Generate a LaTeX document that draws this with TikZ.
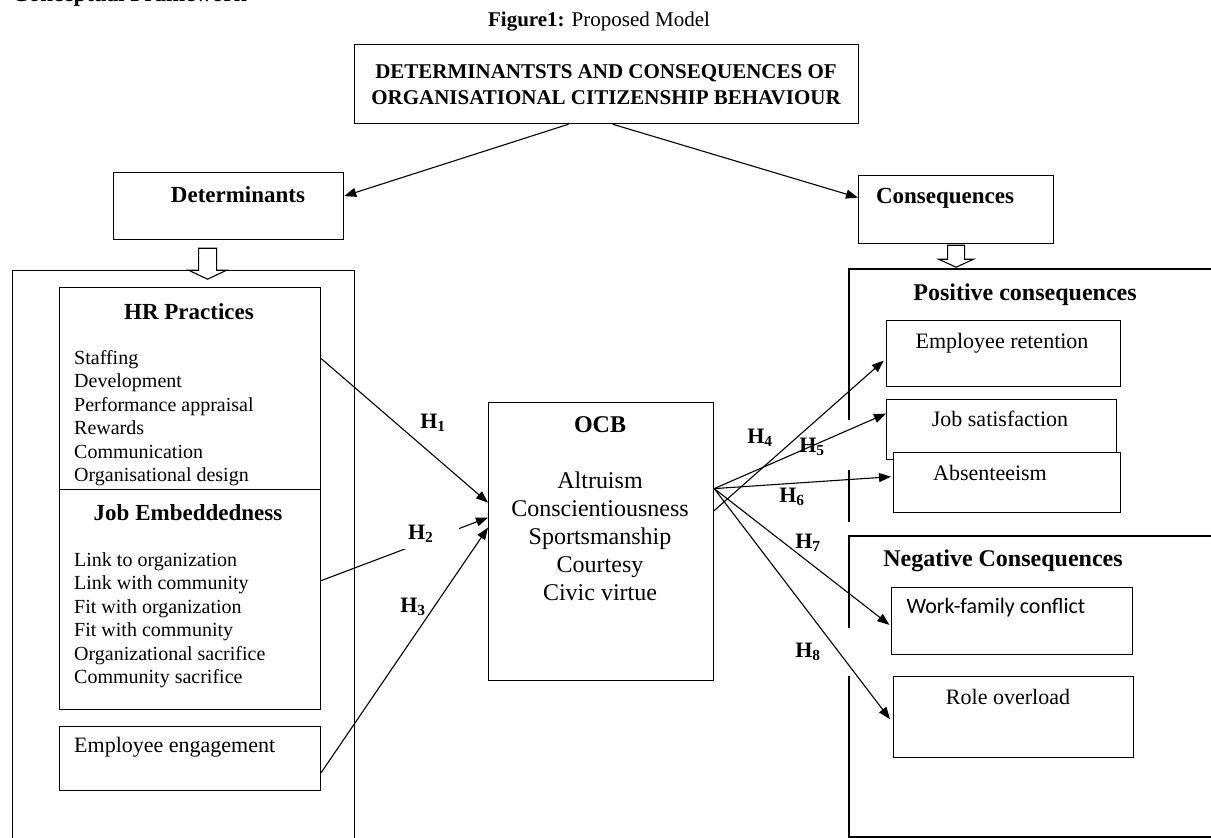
\documentclass[tikz,border=0pt]{standalone}
\usepackage{fontspec}
\setmainfont{Liberation Serif}
\newfontfamily\calibrifont{Carlito}
\usepackage{tikz}
\usetikzlibrary{positioning, arrows.meta}
\tikzset{
    boxnode/.style={draw, line width=1.2pt, rectangle, anchor=north west, inner sep=0pt},
    framenode/.style={draw, line width=1.2pt, rectangle, anchor=north west, inner sep=0pt},
    framelines/.style={line width=1.2pt},
    hdrtext/.style={font=\fontsize{23}{27}\selectfont\bfseries, inner sep=0pt},
    listtext/.style={font=\fontsize{20}{23.5}\selectfont, align=left, anchor=west, inner sep=0pt},
    boxtext/.style={font=\fontsize{22}{26}\selectfont, inner sep=0pt},
    hyplabel/.style={font=\fontsize{22}{26}\selectfont\bfseries, inner sep=0pt},
    hyparrow/.style={line width=1.1pt, -{Triangle[length=12pt,width=9pt]}},
    hollowarrow/.style={draw, line width=1.1pt, fill=white}
}

\begin{document}
\begin{tikzpicture}[x=1pt, y=-1pt]
    \useasboundingbox (0,0) rectangle (1211,838);

    \node[anchor=base west, font=\fontsize{23}{27}\selectfont\bfseries, inner sep=0pt] (cftitle) at (12,1) {Conceptual Framework};
    \node[font=\fontsize{21}{25}\selectfont, inner sep=0pt] (figtitle) at (599,22) {\textbf{Figure1:} Proposed Model};

    % top of the model
    \node[boxnode, minimum width=504pt, minimum height=79pt] (mainbox) at (354,44) {};
    \node[hdrtext, font=\fontsize{21}{26}\selectfont\bfseries, align=center] (maintext) at (606,85)
        {DETERMINANTSTS AND CONSEQUENCES OF\\ORGANISATIONAL CITIZENSHIP BEHAVIOUR};
    \node[boxnode, minimum width=230pt, minimum height=67pt] (det) at (113,172) {};
    \node[hdrtext] (dettext) at (238,195) {Determinants};
    \node[boxnode, minimum width=195pt, minimum height=68pt] (cons) at (858,175) {};
    \node[hdrtext] (constext) at (945,198) {Consequences};

    % determinants side
    \node[framenode, minimum width=342pt, minimum height=620pt] (detframe) at (12,270) {};
    \node[boxnode, minimum width=261pt, minimum height=202pt] (hr) at (59,287) {};
    \node[hdrtext] (hrtext) at (189,312) {HR Practices};
    \node[listtext] (hrlist) at (74,418) {Staffing\\Development\\Performance appraisal\\Rewards\\Communication\\Organisational design};
    \node[boxnode, minimum width=261pt, minimum height=220pt] (je) at (59,489) {};
    \node[hdrtext] (jetext) at (188,513) {Job Embeddedness};
    \node[listtext] (jelist) at (74,620) {Link to organization\\Link with community\\Fit with organization\\Fit with community\\Organizational sacrifice\\Community sacrifice};
    \node[boxnode, minimum width=261pt, minimum height=64pt] (eng) at (59,726) {};
    \node[boxtext, anchor=west] (engtext) at (74,747) {Employee engagement};

    % OCB
    \node[boxnode, minimum width=225pt, minimum height=278pt] (ocb) at (488,402) {};
    \node[hdrtext, font=\fontsize{24}{28}\selectfont\bfseries] (ocbtext) at (600,425) {OCB};
    \node[font=\fontsize{24}{28}\selectfont, align=center, inner sep=0pt] (ocblist) at (600,536)
        {Altruism\\Conscientiousness\\Sportsmanship\\Courtesy\\Civic virtue};

    % consequences side
    \draw[framelines] (1215,269) -- (849,269) -- (849,420);
    \draw[framelines] (849,470) -- (849,522);
    \draw[framelines] (1215,536) -- (849,536) -- (849,628);
    \draw[framelines] (849,676) -- (849,837) -- (1215,837);
    \node[hdrtext, font=\fontsize{24}{28}\selectfont\bfseries] (postext) at (1025,295) {Positive consequences};
    \node[boxnode, minimum width=234pt, minimum height=66pt] (ret) at (886,320) {};
    \node[boxtext] (rettext) at (1002,343) {Employee retention};
    \node[boxnode, minimum width=230pt, minimum height=60pt] (sat) at (886,399) {};
    \node[boxtext] (sattext) at (1000,419) {Job satisfaction};
    \node[boxnode, fill=white, minimum width=227pt, minimum height=60pt] (abs) at (893,452) {};
    \node[boxtext] (abstext) at (990,473) {Absenteeism};
    \node[hdrtext, font=\fontsize{24}{28}\selectfont\bfseries] (negtext) at (1003,561) {Negative Consequences};
    \node[boxnode, minimum width=241pt, minimum height=67pt] (wfc) at (891,587) {};
    \node[boxtext, font=\calibrifont\fontsize{22}{26}\selectfont] (wfctext) at (996,608) {Work-family conflict};
    \node[boxnode, minimum width=240pt, minimum height=81pt] (rol) at (893,676) {};
    \node[boxtext] (roltext) at (1008,697) {Role overload};

    % connectors
    \draw[hyparrow] ([xshift=-38pt]mainbox.south) -- ([yshift=10pt]det.east);
    \draw[hyparrow] ([xshift=6pt]mainbox.south) -- ([yshift=12pt]cons.west);
    \draw[hollowarrow] ([xshift=-30pt,yshift=-8pt]det.south) -- ++(0,22) -- ++(-10,0) -- ++(19,9)
        -- ++(19,-9) -- ++(-10,0) -- ++(0,-22) -- cycle;
    \draw[hollowarrow] ([xshift=-8.5pt,yshift=-1pt]cons.south) -- ++(0,14) -- ++(-9,0) -- ++(17.5,8)
        -- ++(17.5,-8) -- ++(-9,0) -- ++(0,-14) -- cycle;

    \draw[hyparrow] ([yshift=30pt]hr.east) -- ([yshift=39pt]ocb.west);
    \draw[hyparrow] ([yshift=19pt]je.east) -- ([yshift=24pt]ocb.west);
    \draw[hyparrow] ([yshift=-14pt]eng.east) -- ([yshift=14pt]ocb.west);

    \draw[hyparrow, shorten >=3pt] ([yshift=31pt]ocb.east) -- ([yshift=-5pt]ret.west);
    \foreach \target/\dy/\gap in {sat/16/0, abs/6/2, wfc/-5/2, rol/-6/5}
        \draw[hyparrow, shorten >=\gap pt] ([yshift=53pt]ocb.east) -- ([yshift=\dy pt]\target.west);

    \node[hyplabel] (h1) at (433,423) {H\textsubscript{1}};
    \node[hyplabel, fill=white, minimum width=58pt, minimum height=30pt, text width=44pt, align=left] (h2) at (430,534) {H\textsubscript{2}};
    \node[hyplabel] (h3) at (413,607) {H\textsubscript{3}};
    \node[hyplabel] (h4) at (760,438) {H\textsubscript{4}};
    \node[hyplabel] (h5) at (812,447) {H\textsubscript{5}};
    \node[hyplabel] (h6) at (792,497) {H\textsubscript{6}};
    \node[hyplabel] (h7) at (808,543) {H\textsubscript{7}};
    \node[hyplabel] (h8) at (808,652) {H\textsubscript{8}};
\end{tikzpicture}
\end{document}
